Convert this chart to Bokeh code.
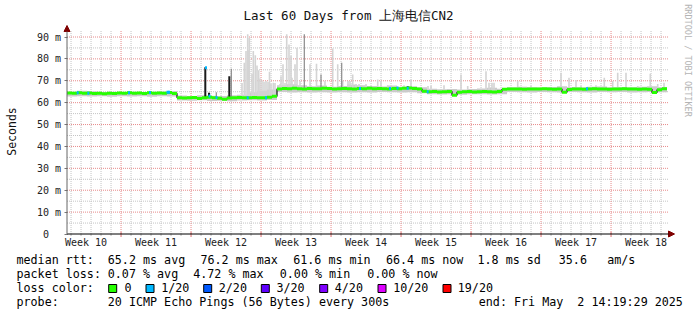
from math import pi
from datetime import datetime, timedelta
from bokeh.plotting import figure
from bokeh.models import Range1d, LinearAxis, FixedTicker, Arrow, NormalHead
from bokeh.core.properties import value
from bokeh.embed import file_html
from bokeh.resources import INLINE

# ---------------- data ----------------
END_TIME = datetime(2025, 5, 2, 14, 19, 29)
SPAN_DAYS = 60
SAMPLE_DAYS = 0.5

week_labels = ["Week 10", "Week 11", "Week 12", "Week 13", "Week 14",
               "Week 15", "Week 16", "Week 17", "Week 18"]
y_ticks = [0, 10, 20, 30, 40, 50, 60, 70, 80, 90]
y_tick_labels = ["0\u00a0\u00a0", "10 m", "20 m", "30 m", "40 m", "50 m", "60 m", "70 m", "80 m", "90 m"]

# median rtt (ms), one value per half day
median_ms = (
    [64.4, 64.3, 64.5, 64.3, 64.4, 64.2, 64.3, 64.1, 64.3, 64.2, 64.4,
     64.3, 64.5, 64.3, 64.4, 64.2, 64.5, 64.3, 64.4, 64.3, 64.6, 64.2]
    + [62.3, 62.1, 62.2, 62.4, 61.9, 62.2, 62.5, 62.3, 62.0, 61.6,
       62.1, 62.3, 62.4, 62.2, 62.3, 62.4, 62.2, 62.3, 62.5, 62.9]
    + [66.3, 66.5, 66.4, 66.6, 66.4, 66.3, 66.5, 66.4, 66.4, 66.6,
       66.5, 66.3, 66.4, 66.5, 66.4, 66.3, 66.5, 66.4, 66.6, 66.4,
       66.5, 66.4, 66.3, 66.5, 66.4, 66.6, 66.7, 66.5, 66.3]
    + [65.2, 65.0, 65.1, 64.9, 65.0, 65.1, 63.4, 64.8,
       65.0, 65.1, 64.9, 65.0, 65.1, 65.0, 64.9, 65.1]
    + [66.1, 66.2, 66.3, 66.2, 66.1, 66.3, 66.2, 66.2, 66.4, 66.3, 66.1,
       66.2, 64.8, 66.0, 66.2, 66.3, 66.1, 66.2, 66.4, 66.3, 66.2, 66.1,
       66.3, 66.2, 66.4, 66.2, 66.3, 66.1, 66.2, 66.1, 64.6, 65.9, 66.4]
)

# smoke band (ms), one value per day
smoke_lo = ([62.8, 62.9, 62.8, 62.9, 62.7, 62.9, 62.8, 62.9, 62.7, 62.9, 62.8]
            + [61.0, 60.9, 61.1, 60.8, 60.9, 60.6, 61.0, 61.1, 61.0, 61.2]
            + [64.9, 64.7, 64.8, 64.6, 64.8, 64.7, 64.8, 64.6, 64.8, 64.7, 64.9, 64.8, 64.7, 64.8, 64.3]
            + [63.8, 63.7, 63.9, 63.6, 63.8, 63.9, 63.7, 63.9]
            + [64.9, 64.8, 64.7, 64.9, 64.8, 64.6, 64.9, 64.8, 64.7, 64.9, 64.8, 64.9, 64.7, 64.8, 64.9, 64.8])
smoke_hi = ([65.0, 65.5, 65.2, 64.9, 65.0, 64.9, 65.0, 64.9, 65.0, 65.1, 65.3]
            + [63.3, 63.1, 63.4, 63.2, 63.1, 63.4, 63.6, 64.8, 65.5, 66.0]
            + [68.0, 68.4, 68.0, 67.5, 67.8, 67.3, 67.6, 68.3, 68.0, 67.6, 67.4, 67.8, 67.3, 67.5, 67.0]
            + [66.4, 66.1, 66.3, 66.0, 66.3, 66.5, 66.8, 66.4]
            + [67.0, 67.3, 67.1, 66.9, 67.2, 67.5, 67.2, 67.0, 67.3, 67.4, 67.1, 67.2, 67.0, 67.3, 67.5, 67.2])

# smoke spikes (day from start, top in ms)
light_spike_day = [17.5, 17.73, 17.9, 18.07, 18.17, 18.23, 18.5, 18.63, 18.83, 19.0, 19.17,
                   19.3, 19.5, 19.7, 19.9, 20.1, 20.25, 20.4, 20.63, 20.8, 21.3, 21.4, 21.6,
                   21.8, 21.97, 22.2, 22.4, 22.5, 22.8, 23.0, 23.3, 24.3, 24.95, 25.8, 26.57,
                   27.07, 27.57, 28.1, 28.3, 28.57, 28.9, 29.2, 29.9, 31.07, 31.4, 32.07, 33.7,
                   34.4, 36.1, 36.4, 37.7, 39.4, 40.07, 41.9, 42.2, 42.5, 42.7, 45.07, 46.4,
                   49.4, 50.2, 50.9, 51.4, 52.9, 53.73, 54.57, 55.07, 55.9, 57.07, 58.33,
                   59.07, 59.7]
light_spike_top = [69.0, 78.2, 83.6, 91.2, 84.0, 89.6, 73.2, 83.6, 81.7, 77.0, 74.8,
                   71.0, 70.2, 69.5, 69.9, 69.4, 74.1, 68.5, 69.1, 69.0, 68.5, 72.1, 77.5,
                   69.0, 91.2, 86.6, 81.3, 71.4, 77.5, 85.1, 70.0, 77.5, 77.8, 70.0, 84.8,
                   77.5, 70.0, 69.9, 69.9, 72.9, 68.5, 68.5, 68.5, 70.6, 70.0, 68.0, 68.0,
                   70.6, 67.6, 67.6, 68.0, 72.9, 67.6, 74.4, 69.1, 69.1, 69.1, 69.9, 67.6,
                   73.7, 71.4, 70.3, 67.6, 68.0, 71.4, 69.9, 73.7, 73.7, 67.6, 73.2,
                   68.5, 69.1]
mid_spike_day = [14.93, 16.43, 23.73, 25.4, 27.47]
mid_spike_top = [64.8, 75.5, 91.2, 72.9, 78.2]
dark_spike_day = [13.83, 14.2, 16.23, 34.07]
dark_spike_top = [76.2, 64.5, 72.1, 67.5]

# samples with 1/20 packet loss (day, median ms)
loss1_day = [1.07, 2.13, 6.2, 8.3, 10.05, 10.2, 13.9, 14.25, 14.95, 18.07, 19.9,
             29.3, 32.3, 33.05, 34.07, 36.07, 52.0]
loss1_ms = [64.5, 64.3, 64.5, 64.6, 64.8, 64.8, 76.0, 63.0, 62.4, 62.3, 62.3,
            66.5, 66.5, 66.7, 66.6, 65.0, 66.4]

loss_labels = ["0", "1/20", "2/20", "3/20", "4/20", "10/20", "19/20"]
loss_colors = ["#26ff00", "#00b8ff", "#0059ff", "#5e00ff", "#7e00ff", "#dd00ff", "#ff0000"]

stats_rtt = ["65.2 ms avg", "76.2 ms max", "61.6 ms min", "66.4 ms now", "1.8 ms sd", "35.6", "am/s"]
stats_loss = ["0.07 % avg", "4.72 % max", "0.00 % min", "0.00 % now"]

# ---------------- layout helpers (pixel -> data) ----------------
W, H = 697, 315
X0_PX, PX_PER_DAY = 66.5, 10.0
Y0_PX, PX_PER_MS = 233.5, 197.0 / 90.0

def dx(px):
    return (px - X0_PX) / PX_PER_DAY

def dy(py):
    return (Y0_PX - py) / PX_PER_MS

MONO = value("DejaVu Sans Mono")

start_time = END_TIME - timedelta(days=SPAN_DAYS)
first_midnight = datetime(start_time.year, start_time.month, start_time.day) + timedelta(days=1)
midnights = []
d = first_midnight
while d < END_TIME:
    midnights.append(d)
    d += timedelta(days=1)
def days_from_start(t):
    return (t - start_time).total_seconds() / 86400.0
x_major = [days_from_start(m) for m in midnights if m.weekday() == 6]
x_minor = [days_from_start(m) for m in midnights if m.weekday() != 6]
week_label_pos = [b - 3.5 for b in x_major] + [x_major[-1] + 3.5]

p = figure(width=W, height=H, output_backend="svg", toolbar_location=None,
           x_range=Range1d(dx(0), dx(W)), y_range=Range1d(dy(H), dy(0)),
           x_axis_location=None, y_axis_location=None,
           min_border=0, min_border_left=0, min_border_right=0,
           min_border_top=0, min_border_bottom=0,
           background_fill_color="white", border_fill_color="white",
           outline_line_color=None)
p.grid.visible = False

x_right = dx(668.5)
y_top = dy(30)

# grid
p.segment(x0=x_minor, x1=x_minor, y0=0, y1=y_top, line_color="#c4c4c4", line_dash="1 1", line_width=1)
y_minor = [5, 15, 25, 35, 45, 55, 65, 75, 85]
p.segment(x0=0, x1=x_right, y0=y_minor, y1=y_minor, line_color="#c4c4c4", line_dash="1 1", line_width=1)
p.segment(x0=x_major, x1=x_major, y0=0, y1=y_top, line_color="#e68a8a", line_dash="1 1", line_width=1)
y_major = y_ticks[1:]
p.segment(x0=0, x1=x_right, y0=y_major, y1=y_major, line_color="#e68a8a", line_dash="1 1", line_width=1)

# small ticks on the time axis
p.segment(x0=x_minor, x1=x_minor, y0=0, y1=dy(235.5), line_color="#bbbbbb", line_width=1)
p.segment(x0=x_major, x1=x_major, y0=dy(231.5), y1=dy(236.5), line_color="#e07070", line_width=1)

# smoke band
day_left = list(range(len(smoke_lo)))
day_right = [d + 1 for d in day_left]
p.quad(left=day_left, right=day_right, bottom=smoke_lo, top=smoke_hi,
       fill_color="#cbcbcb", line_color=None)

def base_of(days):
    return [median_ms[min(int(d / SAMPLE_DAYS), len(median_ms) - 1)] for d in days]

p.vbar(x=light_spike_day, width=0.16, bottom=base_of(light_spike_day), top=light_spike_top,
       fill_color="#d4d4d4", line_color=None)
p.vbar(x=mid_spike_day, width=0.12, bottom=base_of(mid_spike_day), top=mid_spike_top,
       fill_color="#8a8a8a", line_color=None)
p.vbar(x=dark_spike_day, width=0.2, bottom=base_of(dark_spike_day), top=dark_spike_top,
       fill_color="#1a1a1a", line_color=None)

# median line
t0 = [i * SAMPLE_DAYS for i in range(len(median_ms))]
t1 = [t + SAMPLE_DAYS for t in t0]
p.step(x=t0 + [t1[-1]], y=median_ms + [median_ms[-1]], mode="after",
       line_color="#111111", line_width=1.2)
p.segment(x0=t0, x1=t1, y0=median_ms, y1=median_ms, line_color=loss_colors[0],
          line_width=3, line_cap="butt")
p.segment(x0=[d - 0.1 for d in loss1_day], x1=[d + 0.1 for d in loss1_day],
          y0=loss1_ms, y1=loss1_ms, line_color=loss_colors[1], line_width=3, line_cap="butt")

# axes
yax = LinearAxis(fixed_location=0, ticker=FixedTicker(ticks=y_ticks),
                 major_label_overrides={t: s for t, s in zip(y_ticks, y_tick_labels)},
                 axis_line_color=None, major_tick_line_color="#777777",
                 major_tick_out=3, major_tick_in=0, minor_tick_line_color=None,
                 major_label_standoff=3, major_label_text_font="DejaVu Sans Mono",
                 major_label_text_font_size="10px", major_label_text_color="#222222")
p.add_layout(yax, "left")

xax = LinearAxis(fixed_location=0, ticker=FixedTicker(ticks=week_label_pos),
                 major_label_overrides={t: s for t, s in zip(week_label_pos, week_labels)},
                 axis_line_color=None, major_tick_line_color=None, minor_tick_line_color=None,
                 major_tick_out=0, major_tick_in=0, major_label_standoff=3,
                 major_label_text_font="DejaVu Sans Mono", major_label_text_font_size="10px",
                 major_label_text_color="#222222")
p.add_layout(xax, "below")

head_color = "#7f0000"
p.add_layout(Arrow(x_start=0, y_start=0, x_end=dx(674), y_end=0, line_color="black", line_width=1,
                   end=NormalHead(size=6, fill_color=head_color, line_color=head_color, line_width=1)))
p.add_layout(Arrow(x_start=0, y_start=0, x_end=0, y_end=dy(25), line_color="#666666", line_width=1,
                   end=NormalHead(size=6, fill_color=head_color, line_color=head_color, line_width=1)))

# texts
p.text(x=[dx(348)], y=[dy(15)], text=["Last 60 Days from 上海电信CN2"], text_font=MONO,
       text_font_size="12.5px", text_align="center", text_baseline="middle", text_color="#111111")
p.text(x=[dx(11)], y=[dy(131)], text=["Seconds"], text_font=MONO, text_font_size="11.5px",
       text_align="center", text_baseline="middle", angle=pi / 2, text_color="#111111")
p.text(x=[dx(687)], y=[dy(60)], text=["RRDTOOL / TOBI OETIKER"], text_font=MONO,
       text_font_size="8.5px", text_align="center", text_baseline="middle", angle=-pi / 2,
       text_color="#b4b4b4")

LEG = "11.7px"
def leg(xs, py, texts):
    p.text(x=[dx(v) for v in xs], y=[dy(py)] * len(xs), text=texts, text_font=MONO,
           text_font_size=LEG, text_align="left", text_baseline="middle", text_color="#000000")

leg([16] + [107.3, 200, 292.7, 385.5, 477, 558.3, 606.7], 259.3, ["median rtt:"] + stats_rtt)
leg([16] + [107.3, 192.7, 279.3, 366.7], 273.3, ["packet loss:"] + stats_loss)
leg([16] + [124, 160.7, 218.3, 276, 334.3, 392.7, 457.3], 287.3, ["loss color:"] + loss_labels)
leg([16, 107.3, 478.3], 301,
    ["probe:", "20 ICMP Echo Pings (56 Bytes) every 300s", "end: Fri May \u00a02 14:19:29 2025"])

box_px = [112.2, 149.5, 207.2, 264.8, 323.2, 381.5, 446.5]
p.scatter(x=[dx(v) for v in box_px], y=[dy(288)] * len(box_px), marker="square", size=8,
          fill_color=loss_colors, line_color="black", line_width=1)

open("out.html", "w").write(file_html(p, INLINE))
